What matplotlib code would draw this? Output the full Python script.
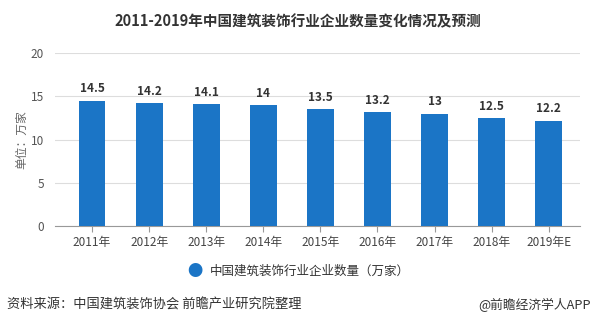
import matplotlib
matplotlib.use('Agg')
import matplotlib.pyplot as plt

plt.rcParams['font.family'] = ['Noto Sans CJK SC', 'DejaVu Sans']

years = ['2011年', '2012年', '2013年', '2014年', '2015年', '2016年', '2017年', '2018年', '2019年E']
counts = [14.5, 14.2, 14.1, 14, 13.5, 13.2, 13, 12.5, 12.2]
value_labels = ['14.5', '14.2', '14.1', '14', '13.5', '13.2', '13', '12.5', '12.2']
yticks = [0, 5, 10, 15, 20]

bar_color = '#1b75c6'

fig = plt.figure(figsize=(5.95, 3.26), dpi=100)
ax = fig.add_axes([0.0924, 0.307, 0.8826, 0.530])

x = list(range(len(years)))
ax.bar(x, counts, width=0.47, color=bar_color, zorder=3)
for xi, v, lab in zip(x, counts, value_labels):
    ax.text(xi, v + 0.6, lab, ha='center', va='bottom', fontsize=8.5,
            fontweight='bold', color='#333333')

ax.set_xlim(-0.65, 8.55)
ax.set_ylim(0, 20)
ax.set_yticks(yticks)
ax.set_xticks(x)
ax.set_xticklabels(years)
ax.tick_params(axis='y', length=0, labelsize=8.5, labelcolor='#555555', pad=8)
ax.tick_params(axis='x', length=4, color='#999999', labelsize=8.5, labelcolor='#444444', pad=3)
ax.grid(axis='y', color='#dddddd', linewidth=0.8, zorder=0)
for s in ['top', 'right', 'left']:
    ax.spines[s].set_visible(False)
ax.spines['bottom'].set_color('#999999')
ax.set_ylabel('单位：万家', fontsize=8.5, color='#666666', labelpad=2)

fig.text(0.5, 0.935, '2011-2019年中国建筑装饰行业企业数量变化情况及预测',
         ha='center', va='center', fontsize=10.5, fontweight='bold', color='#333333')

# legend
fig.text(0.328, 0.168, '●', ha='center', va='center', fontsize=11, color=bar_color)
fig.text(0.352, 0.168, '中国建筑装饰行业企业数量（万家）', ha='left', va='center',
         fontsize=9, color='#333333')

fig.text(0.012, 0.065, '资料来源：中国建筑装饰协会 前瞻产业研究院整理', ha='left', va='center',
         fontsize=9.5, color='#333333')
fig.text(0.993, 0.065, '@前瞻经济学人APP', ha='right', va='center',
         fontsize=9.2, color='#333333')

fig.savefig('out.png', dpi=100)
